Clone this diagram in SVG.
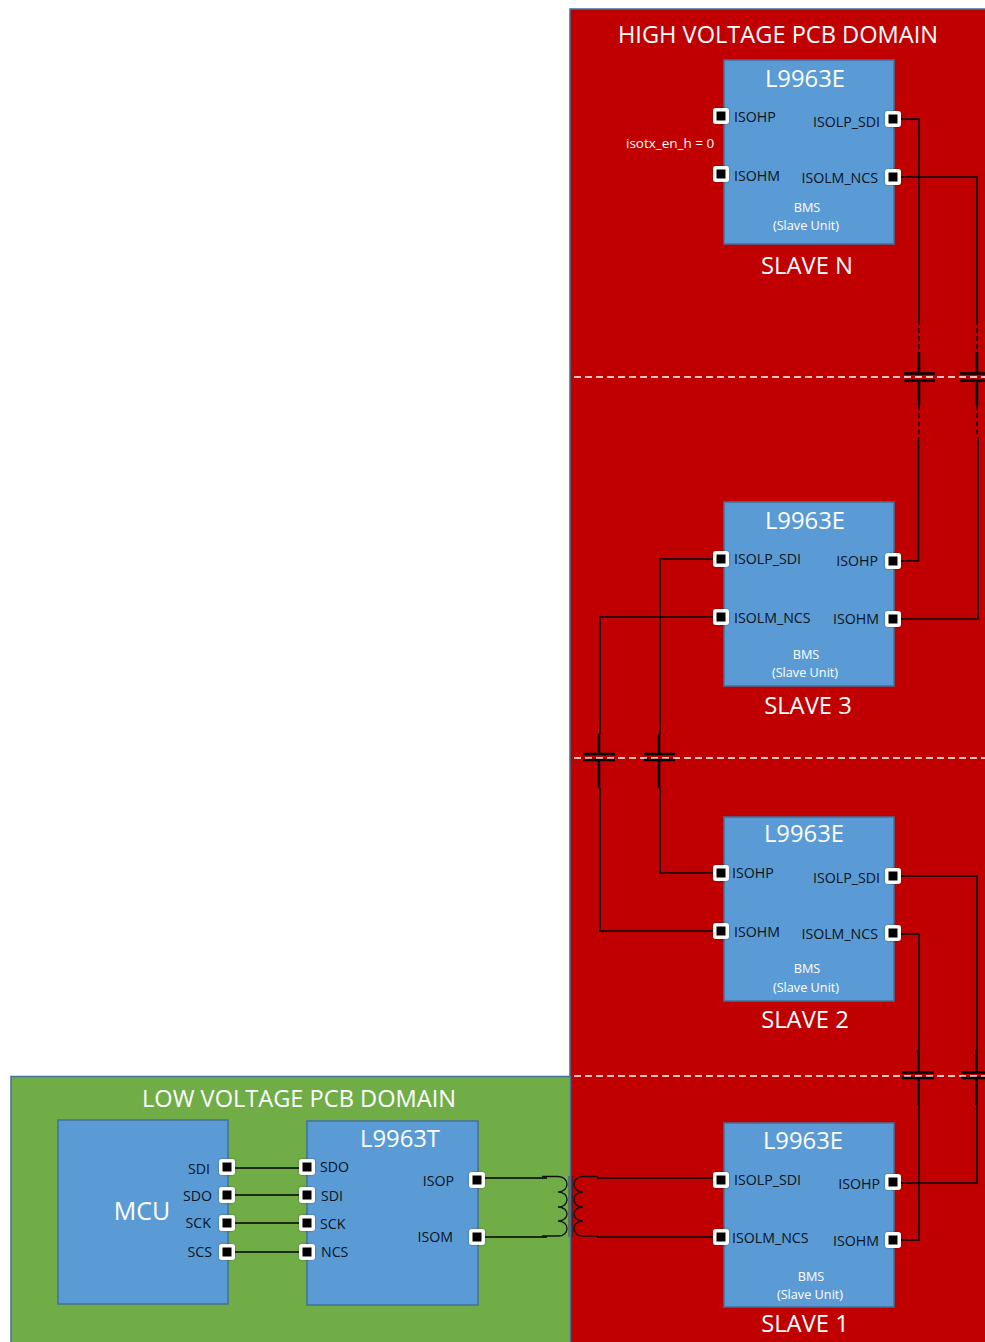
<svg xmlns="http://www.w3.org/2000/svg" width="985" height="1342" viewBox="0 0 985 1342">
<defs>
<filter id="sh" x="-30%" y="-30%" width="160%" height="160%"><feDropShadow dx="0" dy="0" stdDeviation="1.2" flood-color="#000" flood-opacity=".35"/></filter>
<g id="pin"><rect x="-8" y="-8" width="16" height="16" rx="3" fill="#fff" filter="url(#sh)"/><rect x="-4.500" y="-4.500" width="9" height="9" fill="#000"/></g>
</defs>
<style>
text{font-family:"Open Sans","Noto Sans","Liberation Sans",sans-serif}
.chip{fill:#5b9bd5;stroke:#41719c;stroke-width:1.500}
.t{font-size:14.200px;fill:#0a1420}
.w{fill:#fff}
.b{font-size:12.700px;fill:#fff;text-anchor:middle}
.h{font-size:23.600px;fill:#fff;text-anchor:middle}
.s{font-size:23.800px;fill:#fff;text-anchor:middle}
.c{fill:none;stroke:#000;stroke-width:1.600}
.p{fill:none;stroke:#000;stroke-width:2.500}
.d{fill:none;stroke:#000;stroke-width:1.500;stroke-dasharray:5 3}
.cut{fill:none;stroke:#fff;stroke-width:1.500;stroke-dasharray:7 4}
.coil{fill:none;stroke:#111;stroke-width:1.300}
</style>
<rect width="985" height="1342" fill="#fff"/>
<g id="hv-domain"><rect x="570" y="9" width="416" height="1334" fill="#c00000" stroke="#41719c" stroke-width="1.500"/><text class="h" x="778" y="43">HIGH VOLTAGE PCB DOMAIN</text></g>
<g id="lv-domain"><rect x="11" y="1076.500" width="559.500" height="267" fill="#70ad47" stroke="#41719c" stroke-width="1.500"/><text class="h" x="299" y="1107">LOW VOLTAGE PCB DOMAIN</text></g>
<g id="cuts"><path class="cut" d="M574 377H985M574 758H985M574 1076H985"/></g>

<g id="connectors">
<path class="c" d="M901 119H919V320M901 177H977V320"/>
<path class="d" d="M919 320V352M977 320V352M919 405V437M977 405V437"/>
<path class="p" d="M919 352V372M919 382V405M977 352V372M977 382V405"/>
<path class="p" d="M904 373.500H935M904 380.500H935M960 373.500H985M960 380.500H985"/>
<path class="c" d="M918.500 437V561H901M978 437V619H901"/>
<path class="c" d="M714 559H660V734M714 617H600V734"/>
<path class="p" d="M659 734V755M659 761V788M599 734V755M599 761V788"/>
<path class="p" d="M644 754H675M644 760H675M583 754H615M583 760H615"/>
<path class="c" d="M660 788V873H714M600 788V931H714"/>
<path class="c" d="M901 876H977V1055M901 934H919V1055"/>
<path class="p" d="M918.500 1050V1072M918.500 1079V1105M976.500 1050V1072M976.500 1079V1105"/>
<path class="p" d="M902 1072.500H934M902 1078H934M961 1072.500H985M961 1078H985"/>
<path class="c" d="M977 1105V1183H901M919 1105V1240H901"/>
<path class="c" d="M234 1168H300M234 1195H300M234 1223H300M234 1252H300"/>
<path class="c" d="M484 1178H547M484 1237H547M597 1178H714M597 1237H714"/>
</g>
<g id="transformer">
<path class="coil" d="M542 1176.500H558C570 1176.500 570 1192 558 1192C570 1192 570 1207 558 1207C570 1207 570 1221 558 1221C570 1221 570 1236 558 1236H542"/>
<path class="coil" d="M598 1176.500H583C571 1176.500 571 1192 583 1192C571 1192 571 1207 583 1207C571 1207 571 1221 583 1221C571 1221 571 1236 583 1236H598"/>
<path d="M569 1176V1237" stroke="#555" stroke-width="1.200"/>
<path d="M572.500 1176V1237" stroke="#6b1010" stroke-width="1.200"/>
</g>

<g id="slave-n">
<rect class="chip" x="724" y="60" width="170" height="184"/>
<text class="s" x="805" y="87">L9963E</text>
<use href="#pin" x="721" y="116"/><use href="#pin" x="721" y="174"/><use href="#pin" x="893" y="119"/><use href="#pin" x="893" y="177"/>
<text class="t" x="734" y="122">ISOHP</text><text class="t" x="734" y="181">ISOHM</text>
<text class="t" x="880" y="127" text-anchor="end">ISOLP_SDI</text><text class="t" x="878" y="183" text-anchor="end">ISOLM_NCS</text>
<text class="b" x="807" y="212">BMS</text><text class="b" x="806" y="230">(Slave Unit)</text>
<text class="s" x="807" y="274">SLAVE N</text>
<text class="w" x="626" y="148" font-size="13.500">isotx_en_h = 0</text>
</g>
<g id="slave-3">
<rect class="chip" x="724" y="502" width="170" height="184"/>
<text class="s" x="805" y="529">L9963E</text>
<use href="#pin" x="721" y="559"/><use href="#pin" x="721" y="617"/><use href="#pin" x="893" y="561"/><use href="#pin" x="893" y="619"/>
<text class="t" x="734" y="564">ISOLP_SDI</text><text class="t" x="734" y="623">ISOLM_NCS</text>
<text class="t" x="878" y="566" text-anchor="end">ISOHP</text><text class="t" x="879" y="624" text-anchor="end">ISOHM</text>
<text class="b" x="806" y="659">BMS</text><text class="b" x="805" y="677">(Slave Unit)</text>
<text class="s" x="808" y="714">SLAVE 3</text>
</g>
<g id="slave-2">
<rect class="chip" x="724" y="817" width="170" height="184"/>
<text class="s" x="804" y="842">L9963E</text>
<use href="#pin" x="721" y="873"/><use href="#pin" x="721" y="931"/><use href="#pin" x="893" y="876"/><use href="#pin" x="893" y="933"/>
<text class="t" x="732" y="878">ISOHP</text><text class="t" x="734" y="937">ISOHM</text>
<text class="t" x="880" y="883" text-anchor="end">ISOLP_SDI</text><text class="t" x="878" y="939" text-anchor="end">ISOLM_NCS</text>
<text class="b" x="807" y="973">BMS</text><text class="b" x="806" y="992">(Slave Unit)</text>
<text class="s" x="805" y="1028">SLAVE 2</text>
</g>
<g id="slave-1">
<rect class="chip" x="724" y="1123" width="170" height="184"/>
<text class="s" x="803" y="1149">L9963E</text>
<use href="#pin" x="721" y="1180"/><use href="#pin" x="721" y="1237"/><use href="#pin" x="893" y="1182"/><use href="#pin" x="893" y="1240"/>
<text class="t" x="734" y="1185">ISOLP_SDI</text><text class="t" x="732" y="1243">ISOLM_NCS</text>
<text class="t" x="880" y="1189" text-anchor="end">ISOHP</text><text class="t" x="879" y="1246" text-anchor="end">ISOHM</text>
<text class="b" x="811" y="1281">BMS</text><text class="b" x="810" y="1299">(Slave Unit)</text>
<text class="s" x="805" y="1332">SLAVE 1</text>
</g>
<g id="mcu">
<rect class="chip" x="58" y="1120" width="170" height="184"/>
<text class="s" x="142" y="1220" style="font-size:25px">MCU</text>
<use href="#pin" x="227" y="1167"/><use href="#pin" x="227" y="1195"/><use href="#pin" x="227" y="1223"/><use href="#pin" x="227" y="1252"/>
<text class="t" x="210" y="1174" text-anchor="end">SDI</text><text class="t" x="212" y="1201" text-anchor="end">SDO</text><text class="t" x="211" y="1228" text-anchor="end">SCK</text><text class="t" x="212" y="1257" text-anchor="end">SCS</text>
</g>
<g id="l9963t">
<rect class="chip" x="307" y="1121" width="171" height="184"/>
<text class="s" x="400" y="1147">L9963T</text>
<use href="#pin" x="307" y="1167"/><use href="#pin" x="307" y="1195"/><use href="#pin" x="307" y="1223"/><use href="#pin" x="307" y="1252"/>
<text class="t" x="320" y="1172">SDO</text><text class="t" x="321" y="1201">SDI</text><text class="t" x="320" y="1229">SCK</text><text class="t" x="321" y="1257">NCS</text>
<text class="t" x="454" y="1186" text-anchor="end">ISOP</text><text class="t" x="453" y="1242" text-anchor="end">ISOM</text>
<use href="#pin" x="477" y="1180"/><use href="#pin" x="477" y="1237"/>
</g>
</svg>
